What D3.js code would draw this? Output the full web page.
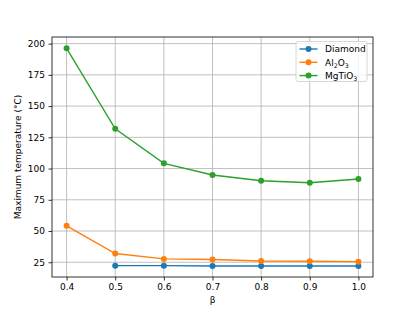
<!DOCTYPE html>
<html>
<head>
<meta charset="utf-8">
<script src="https://cdn.jsdelivr.net/npm/d3@7"></script>
<style>
  body { margin: 0; background: #fff; }
  text { font-family: "DejaVu Sans", sans-serif; }
</style>
</head>
<body>
<div id="chart"></div>
<script>
// values
const betas = [0.4, 0.5, 0.6, 0.7, 0.8, 0.9, 1.0];
const diamond = [null, 22.3, 22.3, 22.0, 22.0, 22.0, 22.0];
const alumina = [54.2, 32.0, 27.7, 27.2, 26.0, 25.8, 25.5];
const mgtio3 = [196.2, 131.8, 104.2, 94.8, 90.2, 88.6, 91.6];
const yTicks = [25, 50, 75, 100, 125, 150, 175, 200];
const xTicks = [0.4, 0.5, 0.6, 0.7, 0.8, 0.9, 1.0];

const series = [
  { name: "Diamond", sub: null, values: diamond, color: "#1f77b4" },
  { name: "Al2O3", sub: [["Al", false], ["2", true], ["O", false], ["3", true]], values: alumina, color: "#ff7f0e" },
  { name: "MgTiO3", sub: [["MgTiO", false], ["3", true]], values: mgtio3, color: "#2ca02c" }
];

const width = 415, height = 311;
const margin = { top: 37, right: 42, bottom: 34, left: 52 };

const svg = d3.select("#chart").append("svg")
  .attr("width", width)
  .attr("height", height);

const x = d3.scaleLinear().domain([0.37, 1.03]).range([margin.left, width - margin.right]);
const y = d3.scaleLinear().domain([13.2, 205.3]).range([height - margin.bottom, margin.top]);

// grid
svg.append("g")
  .selectAll("line.vx")
  .data(xTicks)
  .join("line")
  .attr("x1", (d) => x(d)).attr("x2", (d) => x(d))
  .attr("y1", margin.top).attr("y2", height - margin.bottom)
  .attr("stroke", "#b0b0b0").attr("stroke-width", 0.8);

svg.append("g")
  .selectAll("line.hy")
  .data(yTicks)
  .join("line")
  .attr("x1", margin.left).attr("x2", width - margin.right)
  .attr("y1", (d) => y(d)).attr("y2", (d) => y(d))
  .attr("stroke", "#b0b0b0").attr("stroke-width", 0.8);

// axes
const xAxis = svg.append("g")
  .attr("transform", `translate(0,${height - margin.bottom})`)
  .call(d3.axisBottom(x).tickValues(xTicks).tickFormat(d3.format(".1f")).tickSizeOuter(0).tickSize(3.5).tickPadding(3.5));

const yAxis = svg.append("g")
  .attr("transform", `translate(${margin.left},0)`)
  .call(d3.axisLeft(y).tickValues(yTicks).tickSizeOuter(0).tickSize(3.5).tickPadding(3.5));

[xAxis, yAxis].forEach((g) => {
  g.select(".domain").remove();
  g.selectAll("text").attr("font-size", 9).attr("fill", "#000").attr("font-family", "DejaVu Sans");
  g.selectAll("line").attr("stroke", "#000").attr("stroke-width", 0.8);
});

// spines
svg.append("rect")
  .attr("x", margin.left).attr("y", margin.top)
  .attr("width", width - margin.left - margin.right)
  .attr("height", height - margin.top - margin.bottom)
  .attr("fill", "none").attr("stroke", "#000").attr("stroke-width", 0.8);

// lines and markers
const line = d3.line()
  .defined((d) => d[1] != null)
  .x((d) => x(d[0]))
  .y((d) => y(d[1]));

series.forEach((s) => {
  const pts = betas.map((b, i) => [b, s.values[i]]);
  svg.append("path")
    .datum(pts)
    .attr("d", line)
    .attr("fill", "none")
    .attr("stroke", s.color)
    .attr("stroke-width", 1.4);
  svg.append("g")
    .selectAll("circle")
    .data(pts.filter((d) => d[1] != null))
    .join("circle")
    .attr("cx", (d) => x(d[0]))
    .attr("cy", (d) => y(d[1]))
    .attr("r", 3)
    .attr("fill", s.color);
});

// axis labels
svg.append("text")
  .attr("x", x(0.7)).attr("y", 303)
  .attr("text-anchor", "middle")
  .attr("font-size", 9)
  .text("β");

svg.append("text")
  .attr("transform", `translate(21,${(margin.top + height - margin.bottom) / 2}) rotate(-90)`)
  .attr("text-anchor", "middle")
  .attr("font-size", 9)
  .text("Maximum temperature (°C)");

// legend
const legend = svg.append("g").attr("transform", "translate(296,41.5)");
legend.append("rect")
  .attr("width", 71).attr("height", 40).attr("rx", 2)
  .attr("fill", "#fff").attr("fill-opacity", 0.8)
  .attr("stroke", "#cccccc").attr("stroke-width", 0.8);

series.forEach((s, i) => {
  const ly = 7.5 + i * 13.3;
  legend.append("line")
    .attr("x1", 3.5).attr("x2", 21.5)
    .attr("y1", ly).attr("y2", ly)
    .attr("stroke", s.color).attr("stroke-width", 1.4);
  legend.append("circle")
    .attr("cx", 12.5).attr("cy", ly).attr("r", 3)
    .attr("fill", s.color);
  const t = legend.append("text")
    .attr("x", 29).attr("y", ly + 3.2)
    .attr("font-size", 9);
  if (!s.sub) {
    t.text(s.name);
  } else {
    s.sub.forEach(([str, isSub]) => {
      t.append("tspan")
        .attr("font-size", isSub ? 6.3 : 9)
        .attr("dy", isSub ? 2 : -2)
        .text(str);
    });
    t.select("tspan").attr("dy", 0);
  }
});
</script>
</body>
</html>
